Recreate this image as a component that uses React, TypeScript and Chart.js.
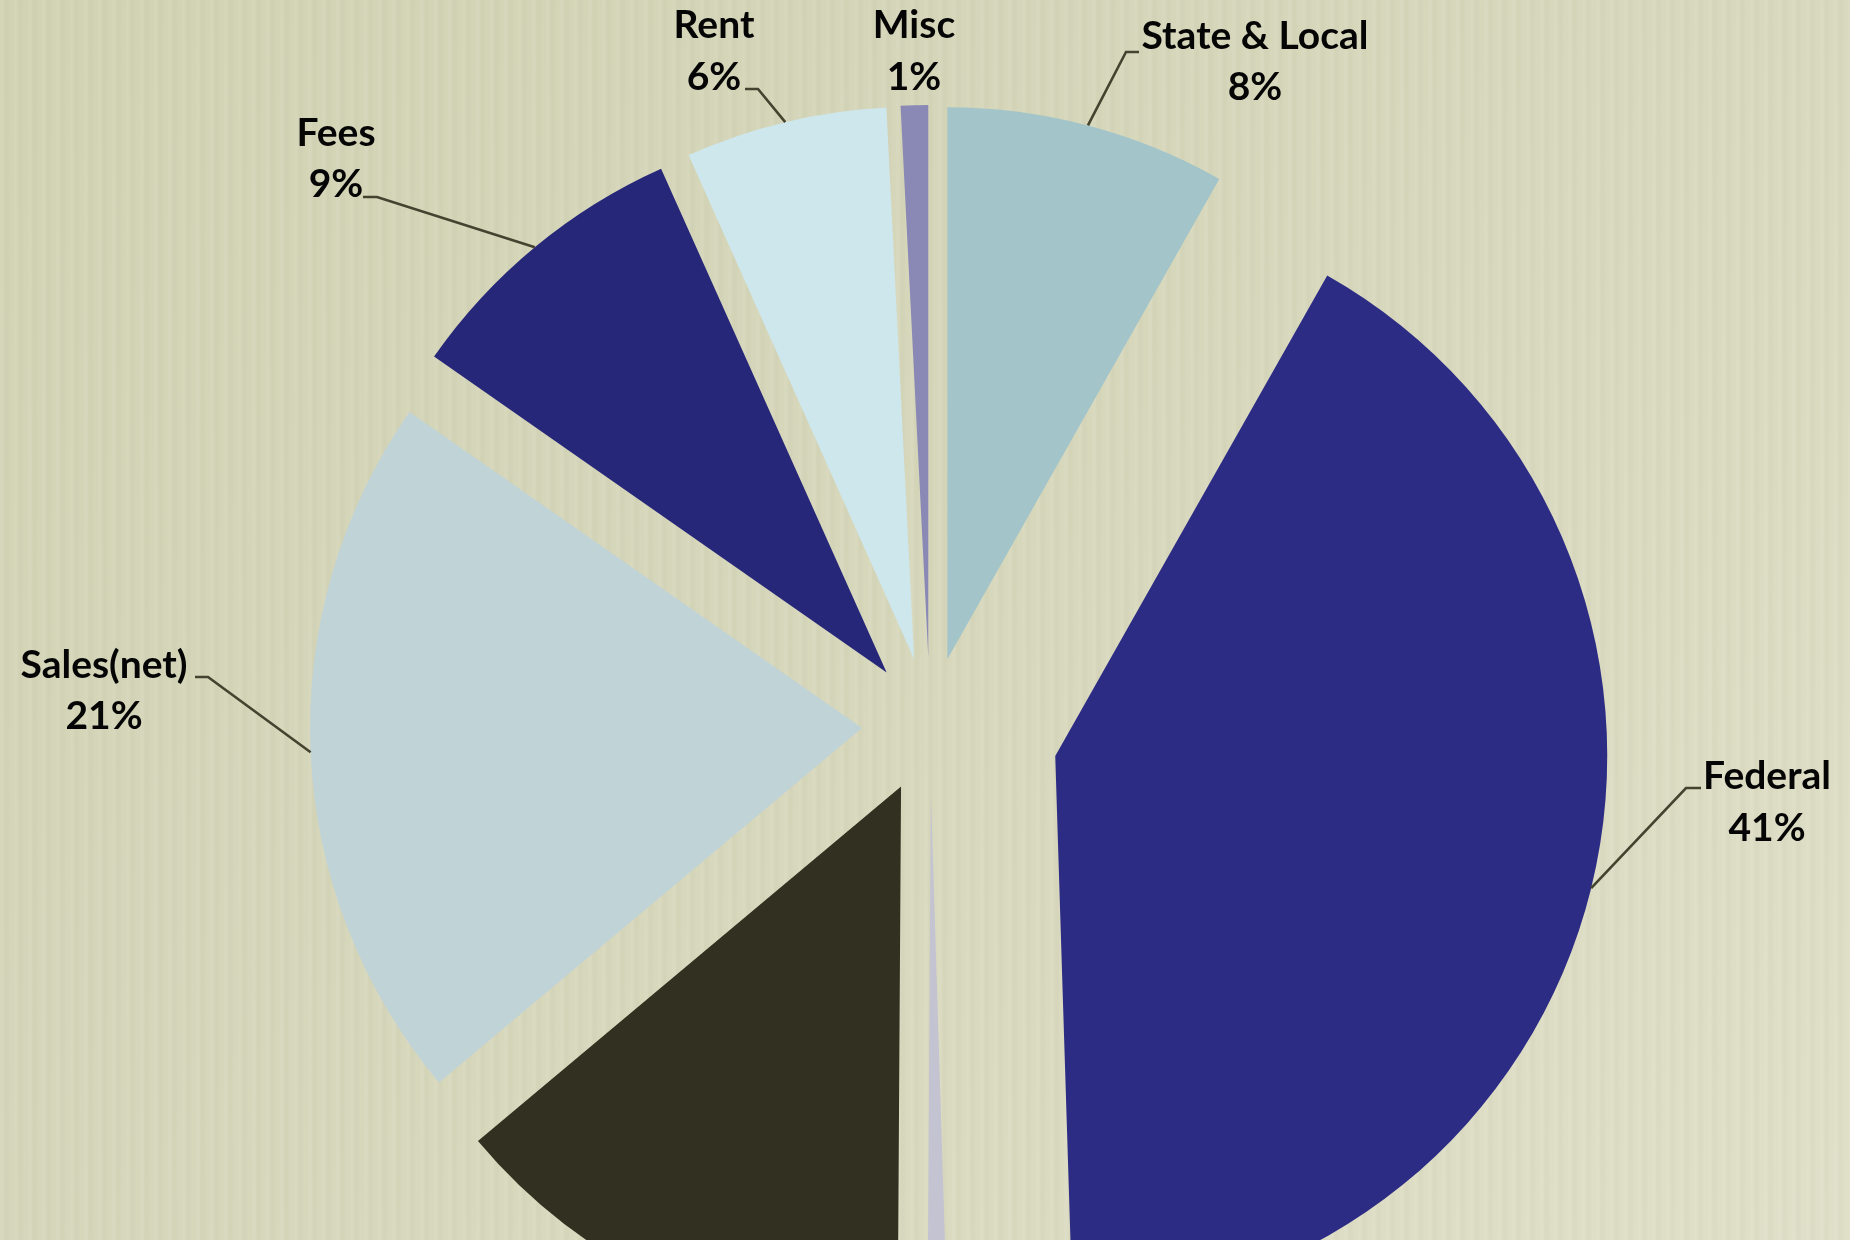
import React, { useEffect, useRef } from "react";
import { Chart, registerables } from "chart.js";

Chart.register(...registerables);

// ---- data ----
const categories = ["State & Local", "Federal", "", "", "Sales(net)", "Fees", "Rent", "Misc"];
const shares = [8.2, 41.3, 0.6, 13.8, 20.8, 8.6, 5.9, 0.8];

// ---- styles ----
const sliceColors = ["#a3c5c9", "#2d2c85", "#c3c3d2", "#323020", "#c0d3d7", "#27277a", "#cde7ec", "#8a89b6"];
const explodeDistance = [68, 129, 68, 68, 68, 68, 68, 68];
const pieRadius = 552;

type LabelLayout = { x: number; y1: number; y2: number; leader: number[][] | null } | null;
const labelLayout: LabelLayout[] = [
  { x: 1255, y1: 36, y2: 87, leader: [[1126, 52], [1139, 52]] },
  { x: 1767, y1: 776, y2: 828, leader: [[1686, 788], [1701, 788]] },
  null,
  null,
  { x: 104, y1: 665, y2: 716, leader: [[208, 677], [195, 677]] },
  { x: 336, y1: 133, y2: 184, leader: [[377, 197], [363, 197]] },
  { x: 714, y1: 25, y2: 77, leader: [[758, 89], [745, 89]] },
  { x: 914, y1: 25, y2: 77, leader: null },
];
const labelFont = "bold 39px Lato";

const explodePlugin = {
  id: "explodeSlices",
  beforeDatasetDraw(chart: any, args: any) {
    const meta = chart.getDatasetMeta(args.index);
    const ctx = chart.ctx;
    meta.data.forEach((el: any, i: number) => {
      const mid = (el.startAngle + el.endAngle) / 2;
      const d = explodeDistance[i] || 0;
      ctx.save();
      ctx.translate(Math.cos(mid) * d, Math.sin(mid) * d);
      el.draw(ctx);
      ctx.restore();
    });
    return false;
  },
  afterDatasetsDraw(chart: any) {
    const meta = chart.getDatasetMeta(0);
    const ctx = chart.ctx;
    meta.data.forEach((el: any, i: number) => {
      const lay = labelLayout[i];
      if (!lay || !categories[i]) return;
      const mid = (el.startAngle + el.endAngle) / 2;
      const d = (explodeDistance[i] || 0) + el.outerRadius;
      if (lay.leader) {
        ctx.save();
        ctx.strokeStyle = "#43432f";
        ctx.lineWidth = 2.6;
        ctx.lineJoin = "miter";
        ctx.beginPath();
        ctx.moveTo(el.x + Math.cos(mid) * d, el.y + Math.sin(mid) * d);
        lay.leader.forEach((p) => ctx.lineTo(p[0], p[1]));
        ctx.stroke();
        ctx.restore();
      }
      ctx.save();
      ctx.fillStyle = "#050505";
      ctx.font = labelFont;
      ctx.textAlign = "center";
      ctx.textBaseline = "middle";
      ctx.fillText(categories[i], lay.x, lay.y1);
      ctx.fillText(Math.round(shares[i]) + "%", lay.x, lay.y2);
      ctx.restore();
    });
  },
};

export default function App() {
  const canvasRef = useRef<HTMLCanvasElement | null>(null);

  useEffect(() => {
    let chart: Chart | null = null;
    let cancelled = false;
    const make = () => {
      if (cancelled || !canvasRef.current) return;
      chart = new Chart(canvasRef.current, {
        type: "pie",
        data: {
          labels: categories,
          datasets: [
            {
              data: shares,
              backgroundColor: sliceColors,
              borderWidth: 0,
              radius: pieRadius,
            } as any,
          ],
        },
        options: {
          responsive: false,
          animation: false,
          rotation: 0,
          layout: { padding: 0 },
          plugins: { legend: { display: false }, tooltip: { enabled: false } },
        },
        plugins: [explodePlugin as any],
      });
    };
    const fontsApi = (document as any).fonts;
    if (fontsApi && fontsApi.load) {
      fontsApi.load(labelFont).then(make, make);
    } else {
      make();
    }
    return () => {
      cancelled = true;
      if (chart) chart.destroy();
    };
  }, []);

  return (
    <div
      style={{
        position: "fixed",
        left: 0,
        top: 0,
        width: 1860,
        height: 1450,
        background:
          "repeating-linear-gradient(90deg, rgba(255,255,245,0.06) 0px, rgba(255,255,245,0.06) 3px, rgba(110,110,80,0.03) 5px, rgba(110,110,80,0.03) 8px, rgba(0,0,0,0) 10px, rgba(0,0,0,0) 14px), linear-gradient(135deg, #d2d2b4 0%, #d7d7bc 45%, #e1e0ca 100%)",
      }}
    >
      <canvas ref={canvasRef} width={1860} height={1450} style={{ display: "block" }} />
    </div>
  );
}
